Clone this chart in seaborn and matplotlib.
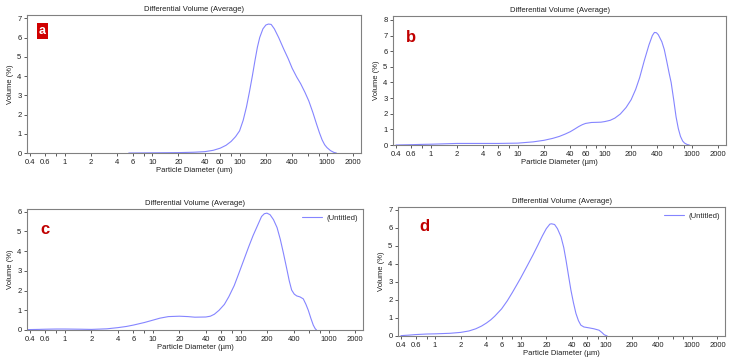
import matplotlib
matplotlib.use('Agg')
import matplotlib.pyplot as plt
import matplotlib.ticker as mticker
import seaborn as sns

# Particle size distributions (diameter in um, volume in %)
d_a = [5.4, 8, 10, 15, 20, 30, 40, 50, 60, 70, 80, 90, 100, 110, 120, 130, 140, 150, 160, 170,
       185, 200, 214, 230, 250, 280, 320, 360, 400, 450, 500, 560, 620, 690, 760, 820, 880, 940,
       1000, 1100, 1200, 1280]
v_a = [0.0, 0.005, 0.01, 0.015, 0.02, 0.04, 0.07, 0.14, 0.25, 0.4, 0.6, 0.85, 1.15, 1.7, 2.4, 3.2, 4.0, 4.8, 5.5, 6.0,
       6.45, 6.65, 6.7, 6.68, 6.45, 6.0, 5.4, 4.9, 4.4, 3.95, 3.6, 3.15, 2.7, 2.1, 1.5, 1.05, 0.68, 0.43,
       0.28, 0.12, 0.03, 0.0]

d_b = [0.4, 0.6, 0.8, 1, 1.5, 2, 4, 6, 10, 15, 20, 25, 30, 35, 40, 45, 50, 55, 60, 70, 80, 90,
       100, 115, 130, 150, 175, 200, 225, 250, 283, 320, 350, 370, 390, 410, 450, 480, 510, 545,
       575, 615, 655, 695, 736, 780, 820, 880, 930]
v_b = [0.0, 0.02, 0.04, 0.05, 0.08, 0.1, 0.1, 0.1, 0.12, 0.2, 0.3, 0.42, 0.55, 0.7, 0.85, 1.02, 1.18, 1.3, 1.38, 1.44, 1.45, 1.46,
       1.5, 1.58, 1.72, 1.98, 2.4, 2.9, 3.55, 4.3, 5.4, 6.4, 7.0, 7.2, 7.18, 7.05, 6.6, 6.1, 5.4, 4.6,
       4.0, 2.9, 1.8, 1.05, 0.55, 0.25, 0.12, 0.03, 0.0]

d_c = [0.37, 0.5, 0.6, 0.8, 1, 1.5, 2, 3, 4, 5, 6, 8, 10, 12, 15, 20, 25, 30, 40, 45, 50, 56.5,
       65, 73, 84, 95, 108, 123, 138, 153, 172, 185, 198, 215, 235, 258, 281, 305, 333, 355,
       378, 405, 432, 470, 513, 550, 585, 625, 666, 700, 725]
v_c = [0.02, 0.03, 0.04, 0.05, 0.05, 0.04, 0.03, 0.06, 0.12, 0.18, 0.25, 0.38, 0.5, 0.6, 0.68, 0.7, 0.68, 0.65, 0.66, 0.7, 0.8, 1.0,
       1.3, 1.69, 2.25, 2.88, 3.55, 4.23, 4.8, 5.25, 5.76, 5.9, 5.93, 5.85, 5.6, 5.2, 4.6, 3.9, 3.1, 2.5,
       2.03, 1.82, 1.73, 1.68, 1.58, 1.3, 1.0, 0.6, 0.25, 0.07, 0.0]

d_d = [0.4, 0.5, 0.6, 0.8, 1, 1.5, 2, 2.5, 3, 3.5, 4, 4.5, 5, 6, 7, 8, 9, 10, 12, 14, 16, 18, 20,
       22, 23, 25, 27, 29.7, 32, 34, 36.5, 38.8, 41.5, 44.4, 47.5, 50.7, 55, 63.4, 72, 82.8, 90,
       95, 103]
v_d = [0.02, 0.05, 0.08, 0.11, 0.12, 0.15, 0.2, 0.28, 0.4, 0.55, 0.72, 0.9, 1.1, 1.5, 1.95, 2.4, 2.82, 3.2, 3.9, 4.5, 5.05, 5.55, 5.95,
       6.2, 6.22, 6.18, 5.95, 5.5, 4.9, 4.2, 3.3, 2.54, 1.85, 1.25, 0.85, 0.6, 0.5, 0.45, 0.4, 0.32, 0.18,
       0.07, 0.0]

x_ticks = [0.4, 0.6, 1, 2, 4, 6, 10, 20, 40, 60, 100, 200, 400, 1000, 2000]
x_tick_labels = ['0.4', '0.6', '1', '2', '4', '6', '10', '20', '40', '60', '100', '200', '400', '1000', '2000']
x_minor = [0.8, 8, 80, 600, 800]

sns.set_style('white')
plt.rcParams['font.family'] = ['Liberation Sans', 'DejaVu Sans']

fig = plt.figure(figsize=(7.29, 3.57), dpi=100)
W, H = 729, 357


def make_axes(left, top, right, bottom):
    return fig.add_axes([left / W, 1 - bottom / H, (right - left) / W, (bottom - top) / H])


panels = [
    # (axes box in pixels, data, y max, y ticks, letter, letter pos, legend, unit)
    ((27, 15, 361, 153), d_a, v_a, 7.17, range(0, 8), 'a', (0.035, 0.885), False, 'um'),
    ((393, 16, 726, 145), d_b, v_b, 8.25, range(0, 9), 'b', (0.04, 0.83), False, 'µm'),
    ((27, 209, 363, 330), d_c, v_c, 6.14, range(0, 7), 'c', (0.04, 0.83), True, 'µm'),
    ((398, 207, 725, 336), d_d, v_d, 7.15, range(0, 8), 'd', (0.065, 0.85), True, 'µm'),
]

line_color = '#8585ff'
grey = '#808080'

for box, dd, vv, ymax, yt, letter, lpos, show_leg, unit in panels:
    ax = make_axes(*box)
    sns.lineplot(x=dd, y=vv, ax=ax, color=line_color, linewidth=0.8,
                 label='(Untitled)' if show_leg else None, legend=show_leg)
    ax.set_xscale('log')
    ax.set_xlim(0.37, 2450)
    ax.set_ylim(0, ymax)
    ax.xaxis.set_major_locator(mticker.FixedLocator(x_ticks))
    ax.xaxis.set_major_formatter(mticker.FixedFormatter(x_tick_labels))
    ax.xaxis.set_minor_locator(mticker.FixedLocator(x_minor))
    ax.xaxis.set_minor_formatter(mticker.NullFormatter())
    ax.set_yticks(list(yt))
    ax.tick_params(axis='both', which='both', direction='out', length=2.5, width=0.6,
                   color='#404040', labelsize=5.5, pad=1.5, labelcolor='#202020')
    ax.tick_params(axis='x', which='both', bottom=True)
    ax.tick_params(axis='y', left=True)
    for s in ax.spines.values():
        s.set_color(grey)
        s.set_linewidth(0.8)
    ax.set_title('Differential Volume (Average)', fontsize=5.5, pad=3, color='#202020')
    ax.set_xlabel(f'Particle Diameter ({unit})', fontsize=5.5, labelpad=1, color='#202020')
    ax.set_ylabel('Volume (%)', fontsize=5.5, labelpad=2, color='#202020')

    if letter == 'a':
        ax.text(lpos[0], lpos[1], letter, transform=ax.transAxes, fontsize=9, fontweight='bold',
                color='white', va='center', ha='left',
                bbox=dict(facecolor='#d00000', edgecolor='none', boxstyle='square,pad=0.15'))
    else:
        ax.text(lpos[0], lpos[1], letter, transform=ax.transAxes, fontsize=12, fontweight='bold',
                color='#c00000', va='center', ha='left')

    if show_leg:
        ax.legend(loc='upper right', frameon=False, fontsize=5.5, handlelength=2.5,
                  borderaxespad=0.3, handletextpad=0.6)

plt.savefig('out.png', dpi=100)
